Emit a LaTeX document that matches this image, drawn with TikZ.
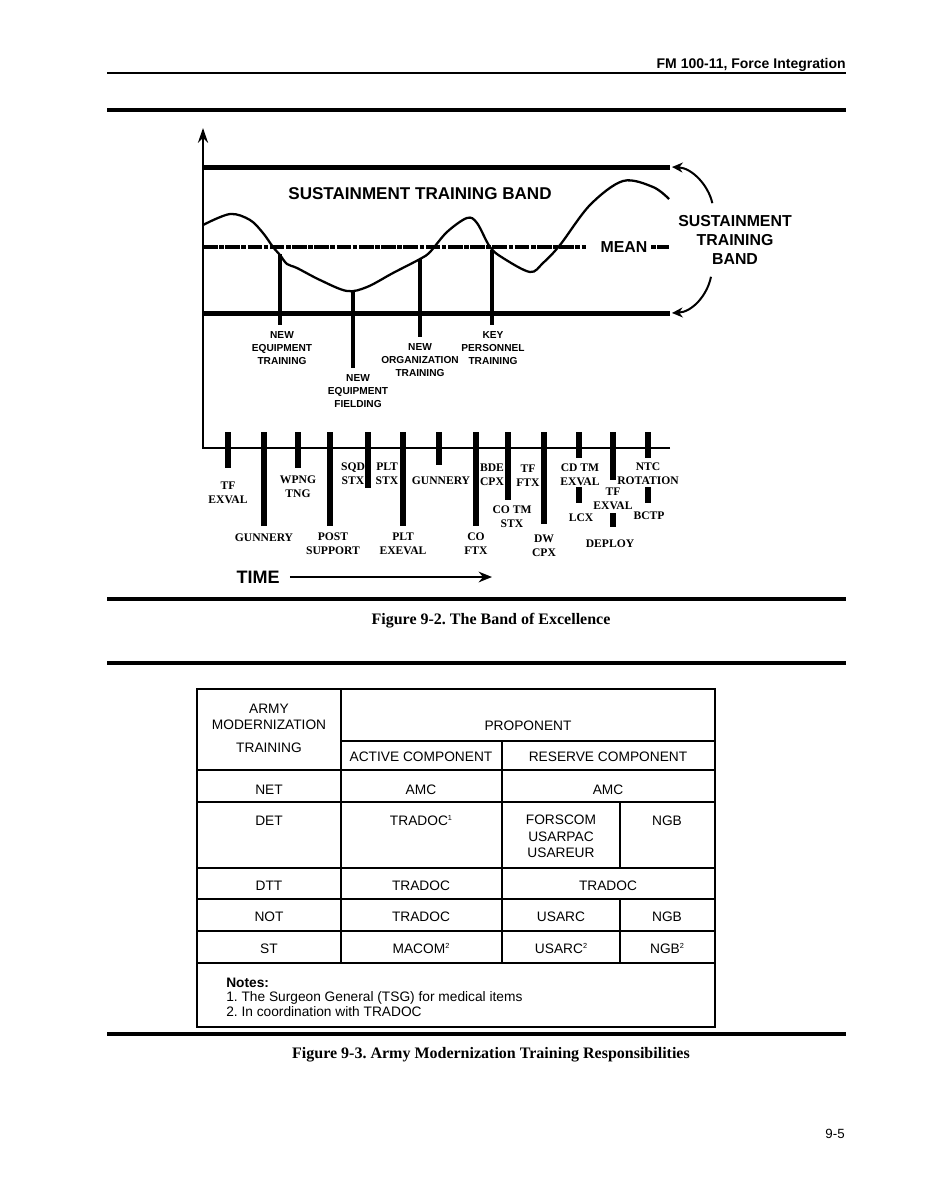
\documentclass[tikz,border=0pt]{standalone}
\usepackage{fontspec}
\setmainfont{Liberation Serif}
\setsansfont{Liberation Sans}
\usetikzlibrary{arrows.meta}
\frenchspacing

\newcommand{\runheadfont}{\sffamily\bfseries\fontsize{10.5}{12}\selectfont}
\newcommand{\bandtitlefont}{\sffamily\bfseries\fontsize{12.8}{15}\selectfont}
\newcommand{\sidefont}{\sffamily\bfseries\fontsize{11.9}{14.25}\selectfont}
\newcommand{\eventfont}{\sffamily\bfseries\fontsize{7.6}{9.75}\selectfont}
\newcommand{\tickfont}{\rmfamily\bfseries\fontsize{8.7}{10.5}\selectfont}
\newcommand{\timefont}{\sffamily\bfseries\fontsize{13.5}{15}\selectfont}
\newcommand{\figcapfont}{\rmfamily\bfseries\fontsize{12}{14}\selectfont}
\newcommand{\tabcellfont}{\sffamily\fontsize{10.3}{12.4}\selectfont}
\newcommand{\tabsup}[1]{\raisebox{3.6pt}{\fontsize{5.5}{6}\selectfont #1}}

\begin{document}
\begin{tikzpicture}[x=0.75pt, y=-0.75pt,
    rule/.style={line width=3.4pt},
    bandline/.style={line width=3.75pt},
    dropline/.style={line width=3.4pt},
    tickbar/.style={line width=4.3pt},
    lbl/.style={align=center, inner sep=0pt},
    cell/.style={anchor=base, inner sep=0pt, font=\tabcellfont},
    gridline/.style={line width=1.1pt},
    bandarrow/.style={line width=1.5pt, -{Stealth[length=8pt, width=7.5pt]}}]

    \useasboundingbox (0,0) rectangle (926,1198);
    \fill[white] (0,0) rectangle (926,1198);

    % running head
    \node[anchor=base east, inner sep=0pt, font=\runheadfont] (runhead) at (846,68.5) {FM 100-11, Force Integration};
    \draw[line width=1.9pt] (107,73) -- (846,73);
    \draw[rule] (107,110) -- (846,110);

    % band of excellence
    \draw[line width=1.9pt, -{Stealth[length=11pt, width=7.5pt]}] (670,448) -- (203,448) -- (203,128);
    \draw[bandline] (203,168) -- (670,168);
    \draw[bandline] (203,313) -- (670,313);
    \draw[line width=3.6pt, dash pattern=on 11pt off 1.1pt on 3.5pt off 1.1pt] (203,247) -- (586,247);
    \draw[line width=3.6pt, dash pattern=on 3.5pt off 1.1pt on 9pt] (651,247) -- (670,247);
    \node[font=\bandtitlefont, inner sep=0pt] (bandtitle) at (420,194) {SUSTAINMENT TRAINING BAND};
    \node[font=\sidefont, inner sep=0pt] (mean) at (624,247) {MEAN};

    \draw[line width=1.7pt] plot[smooth, tension=0.55] coordinates {(203,225) (230,214) (250,220) (263,233)
      (273,247) (280,255) (287,264) (297,268) (320,280) (347,291) (367,287) (393,273) (420,259) (430,252)
      (447,232) (467,218) (477,223) (490,247) (503,258) (530,272) (543,263) (560,245) (590,205) (623,181)
      (653,187) (669,199)};

    \foreach \x/\t/\b in {280/254/325, 353/290/368, 420/259/337, 492/250/325}
      \draw[dropline] (\x,\t) -- (\x,\b);

    \node[lbl, font=\eventfont] (neweqtrain) at (282,348.5) {NEW\\EQUIPMENT\\TRAINING};
    \node[lbl, font=\eventfont] (neweqfield) at (358,391) {NEW\\EQUIPMENT\\FIELDING};
    \node[lbl, font=\eventfont] (neworgtrain) at (420,360.5) {NEW\\ORGANIZATION\\TRAINING};
    \node[lbl, font=\eventfont] (keypers) at (493,348) {KEY\\PERSONNEL\\TRAINING};

    \node[lbl, font=\sidefont] (sidelbl) at (735,240) {SUSTAINMENT\\TRAINING\\BAND};
    \coordinate (bandtop) at (672,167);
    \coordinate (bandbot) at (672,313);
    \draw[bandarrow] ([xshift=-17pt, yshift=9pt]sidelbl.north) .. controls +(-4,-18) and +(20,1) .. (bandtop);
    \draw[bandarrow] ([xshift=-18pt, yshift=-9pt]sidelbl.south) .. controls +(-4,19) and +(20,-1) .. (bandbot);

    % training events along time
    \foreach \x/\b in {228/468, 264/526, 298/468, 330/526, 368/488, 403/526, 439/465,
                       476/526, 508/500, 544/524, 579/458, 613/480, 648/458}
      \draw[tickbar] (\x,432) -- (\x,\b);
    \foreach \x/\t/\b in {579/487/503, 613/513/527, 648/487/503}
      \draw[tickbar] (\x,\t) -- (\x,\b);

    \node[lbl, font=\tickfont] (tfexvalA) at (228,493) {TF\\EXVAL};
    \node[lbl, font=\tickfont] (gunneryA) at (264,538) {GUNNERY};
    \node[lbl, font=\tickfont] (wpng) at (298,486.5) {WPNG\\TNG};
    \node[lbl, font=\tickfont] (postsup) at (333,544) {POST\\SUPPORT};
    \node[lbl, font=\tickfont] (sqdstx) at (353,474) {SQD\\STX};
    \node[lbl, font=\tickfont] (pltstx) at (387,473.5) {PLT\\STX};
    \node[lbl, font=\tickfont] (pltexeval) at (403,544) {PLT\\EXEVAL};
    \node[lbl, font=\tickfont] (gunneryB) at (441,481) {GUNNERY};
    \node[lbl, font=\tickfont] (bdecpx) at (492,475) {BDE\\CPX};
    \node[lbl, font=\tickfont] (coftx) at (476,543.5) {CO\\FTX};
    \node[lbl, font=\tickfont] (tfftx) at (528,476) {TF\\FTX};
    \node[lbl, font=\tickfont] (cotmstx) at (512,517) {CO TM\\STX};
    \node[lbl, font=\tickfont] (dwcpx) at (544,545.5) {DW\\CPX};
    \node[lbl, font=\tickfont] (cdtm) at (580,475) {CD TM\\EXVAL};
    \node[lbl, font=\tickfont] (lcx) at (581,518) {LCX};
    \node[lbl, font=\tickfont] (tfexvalB) at (613,498.5) {TF\\EXVAL};
    \node[lbl, font=\tickfont] (deploy) at (610,544) {DEPLOY};
    \node[lbl, font=\tickfont] (ntc) at (648,473.5) {NTC\\ROTATION};
    \node[lbl, font=\tickfont] (bctp) at (649,516) {BCTP};

    \node[font=\timefont, inner sep=0pt] (time) at (258,577) {TIME};
    \coordinate (timeend) at (492,577);
    \draw[line width=1.5pt, -{Stealth[length=10pt, width=8pt]}] ([xshift=7.5pt]time.east) -- (timeend);

    \draw[rule] (107,599) -- (846,599);
    \node[anchor=base, inner sep=0pt, font=\figcapfont] (cap92) at (491,624) {Figure 9-2. The Band of Excellence};
    \draw[rule] (107,663) -- (846,663);

    % responsibilities table
    \draw[line width=2.2pt] (197,689) rectangle (715,1027);
    \draw[gridline] (341,689) -- (341,963);
    \draw[gridline] (502,741) -- (502,963);
    \draw[gridline] (620,802) -- (620,868);
    \draw[gridline] (620,899) -- (620,963);
    \draw[gridline] (341,741) -- (715,741);
    \foreach \y in {770, 802, 868, 899, 931, 963}
      \draw[gridline] (197,\y) -- (715,\y);

    \node[lbl, font=\tabcellfont] (amt) at (269,728) {ARMY\\MODERNIZATION\\[4.5pt]TRAINING};
    \node[cell] (prop) at (528,730) {PROPONENT};
    \node[cell] (active) at (421,761) {ACTIVE COMPONENT};
    \node[cell] (reserve) at (608,761) {RESERVE COMPONENT};

    \node[cell] (net) at (269,794) {NET};
    \node[cell] (netac) at (421,794) {AMC};
    \node[cell] (netrc) at (608,794) {AMC};

    \node[cell] (det) at (269,825) {DET};
    \node[cell] (detac) at (421,825) {TRADOC\tabsup{1}};
    \node[lbl, font=\tabcellfont] (detrc) at (561,836.5) {FORSCOM\\USARPAC\\USAREUR};
    \node[cell] (detng) at (667,825) {NGB};

    \node[cell] (dtt) at (269,890) {DTT};
    \node[cell] (dttac) at (421,890) {TRADOC};
    \node[cell] (dttrc) at (608,890) {TRADOC};

    \node[cell] (not) at (269,921) {NOT};
    \node[cell] (notac) at (421,921) {TRADOC};
    \node[cell] (notrc) at (561,921) {USARC};
    \node[cell] (notng) at (667,921) {NGB};

    \node[cell] (st) at (269,953) {ST};
    \node[cell] (stac) at (421,953) {MACOM\tabsup{2}};
    \node[cell] (strc) at (561,953) {USARC\tabsup{2}};
    \node[cell] (stng) at (667,953) {NGB\tabsup{2}};

    \node[anchor=base west, inner sep=0pt, font=\tabcellfont\bfseries] (notes) at (226,987.5) {Notes:};
    \node[anchor=base west, inner sep=0pt, font=\tabcellfont] (noteA) at (226,1001.5) {1. The Surgeon General (TSG) for medical items};
    \node[anchor=base west, inner sep=0pt, font=\tabcellfont] (noteB) at (226,1016.5) {2. In coordination with TRADOC};

    \draw[rule] (107,1034) -- (846,1034);
    \node[anchor=base, inner sep=0pt, font=\figcapfont] (cap93) at (491,1058) {Figure 9-3. Army Modernization Training Responsibilities};

    \node[anchor=base east, inner sep=0pt, font=\sffamily\fontsize{10}{12}\selectfont] (pagenum) at (845,1138) {9-5};
\end{tikzpicture}
\end{document}
